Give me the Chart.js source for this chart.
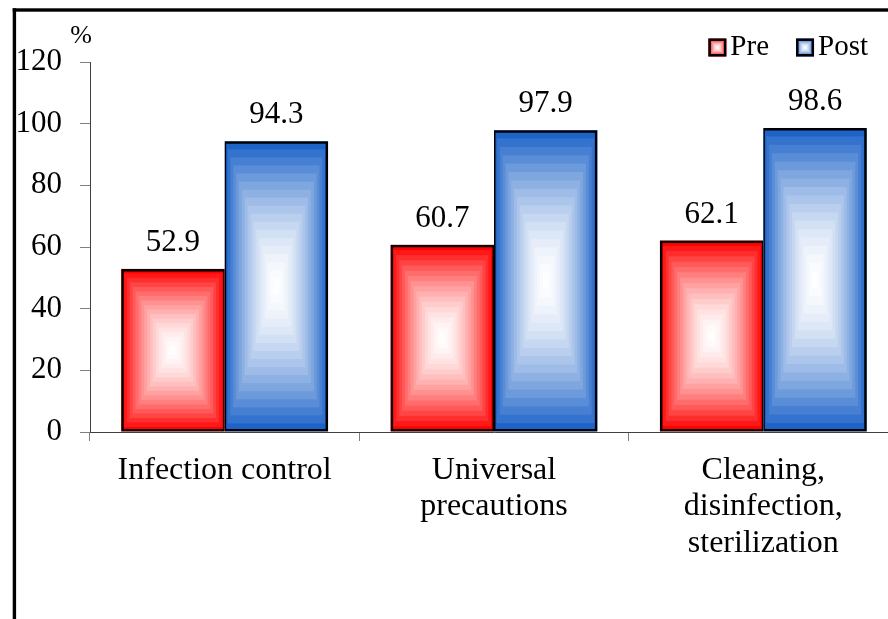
<!DOCTYPE html>
<html><head><meta charset="utf-8">
<script src="https://cdn.jsdelivr.net/npm/chart.js@4.4.0/dist/chart.umd.min.js"></script>
<style>
html,body{margin:0;padding:0;overflow:hidden;background:#fff;width:888px;height:619px;}
#wrap{position:absolute;left:0;top:0;width:898px;height:619px;}
</style></head><body>
<div id="wrap"><canvas id="c"></canvas></div>
<script>
const categories = ['Infection control', ['Universal', 'precautions'], ['Cleaning,', 'disinfection,', 'sterilization']];
const seriesNames = ['Pre', 'Post'];
const preValues = [52.9, 60.7, 62.1];
const postValues = [94.3, 97.9, 98.6];
const yTicks = [0, 20, 40, 60, 80, 100, 120];
const unitLabel = '%';

const FONT = "'Liberation Serif', 'Times New Roman', serif";
const edgeColors = [[255, 0, 0], [30, 100, 200]];

function rectGradient(ctx, left, top, right, bottom, rgb, bands) {
  const cx = (left + right) / 2, cy = (top + bottom) / 2;
  const w = right - left, h = bottom - top;
  for (let k = bands; k >= 1; k--) {
    const t = k / bands;
    const f = Math.pow(t, 1.7);
    const r = Math.round(255 + (rgb[0] - 255) * f);
    const g = Math.round(255 + (rgb[1] - 255) * f);
    const b = Math.round(255 + (rgb[2] - 255) * f);
    ctx.fillStyle = `rgb(${r},${g},${b})`;
    ctx.fillRect(cx - w * t / 2, cy - h * t / 2, w * t, h * t);
  }
}

const gradientPlugin = {
  id: 'gradFill',
  beforeDatasetsDraw(chart) {
    const ctx = chart.ctx;
    chart.data.datasets.forEach((ds, di) => {
      const meta = chart.getDatasetMeta(di);
      meta.data.forEach(el => {
        const p = el.getProps(['x', 'y', 'base', 'width'], true);
        const left = p.x - p.width / 2, right = p.x + p.width / 2;
        const top = Math.min(p.y, p.base), bottom = Math.max(p.y, p.base);
        ctx.save();
        rectGradient(ctx, left, top, right, bottom, edgeColors[di], 18);
        ctx.restore();
      });
    });
  },
  afterDatasetsDraw(chart) {
    const ctx = chart.ctx;
    ctx.save();
    ctx.font = '31px ' + FONT;
    ctx.fillStyle = '#000';
    ctx.textAlign = 'center';
    ctx.textBaseline = 'alphabetic';
    chart.data.datasets.forEach((ds, di) => {
      const meta = chart.getDatasetMeta(di);
      meta.data.forEach((el, i) => {
        const p = el.getProps(['x', 'y'], true);
        ctx.fillText(ds.data[i].toFixed(1), p.x, p.y - 18);
      });
    });
    ctx.restore();
  },
  afterDraw(chart) {
    const ctx = chart.ctx;
    ctx.save();
    ctx.fillStyle = '#000';
    ctx.fillRect(12.7, 8.3, 900, 3.4);
    ctx.fillRect(12.7, 8.3, 3.4, 620);
    ctx.font = '26px ' + FONT;
    ctx.textAlign = 'center';
    ctx.textBaseline = 'alphabetic';
    ctx.fillText(unitLabel, chart.chartArea.left - 9, 43);
    ctx.font = '29px ' + FONT;
    ctx.textAlign = 'left';
    const box = 18, gapText = 4, gapItem = 27;
    const widths = seriesNames.map(n => ctx.measureText(n).width);
    let total = 0;
    widths.forEach((w, i) => { total += box + gapText + w + (i < widths.length - 1 ? gapItem : 0); });
    let x = 868 - total;
    seriesNames.forEach((n, i) => {
      const by = 38.5;
      rectGradient(ctx, x, by, x + box, by + box, edgeColors[i], 8);
      ctx.strokeStyle = '#000';
      ctx.lineWidth = 2.5;
      ctx.strokeRect(x + 1.25, by + 1.25, box - 2.5, box - 2.5);
      ctx.fillStyle = '#000';
      ctx.fillText(n, x + box + gapText, 55);
      x += box + gapText + widths[i] + gapItem;
    });
    ctx.restore();
  }
};

Chart.defaults.font.family = FONT;
Chart.defaults.color = '#000';

new Chart(document.getElementById('c'), {
  type: 'bar',
  data: {
    labels: categories,
    datasets: [
      { label: seriesNames[0], data: preValues, backgroundColor: 'rgba(0,0,0,0)', borderColor: '#000',
        borderWidth: { top: 2.5, left: 2.5, bottom: 2.5, right: 1.5 }, borderSkipped: false,
        categoryPercentage: 0.768, barPercentage: 1 },
      { label: seriesNames[1], data: postValues, backgroundColor: 'rgba(0,0,0,0)', borderColor: '#000',
        borderWidth: { top: 2.5, left: 1.5, bottom: 2.5, right: 2.5 }, borderSkipped: false,
        categoryPercentage: 0.768, barPercentage: 1 }
    ]
  },
  options: {
    responsive: true,
    maintainAspectRatio: false,
    animation: false,
    layout: { padding: { top: 62, left: 0, right: 0, bottom: 0 } },
    plugins: { legend: { display: false }, tooltip: { enabled: false }, title: { display: false } },
    scales: {
      x: {
        ticks: { color: '#000', font: { size: 32, lineHeight: 1.14 }, padding: 11, maxRotation: 0, minRotation: 0, autoSkip: false },
        grid: { drawOnChartArea: false, tickLength: 9, color: '#808080', offset: true },
        border: { color: '#404040', width: 1 },
        afterFit: s => { s.height = 619 - 432; }
      },
      y: {
        min: 0, max: 120,
        afterBuildTicks: s => { s.ticks = yTicks.map(v => ({ value: v })); },
        ticks: { color: '#000', font: { size: 31 }, padding: 18 },
        grid: { drawOnChartArea: false, tickLength: 10, color: '#808080' },
        border: { color: '#404040', width: 1 },
        afterFit: s => { s.width = 90; }
      }
    }
  },
  plugins: [gradientPlugin]
});
</script>
</body></html>
